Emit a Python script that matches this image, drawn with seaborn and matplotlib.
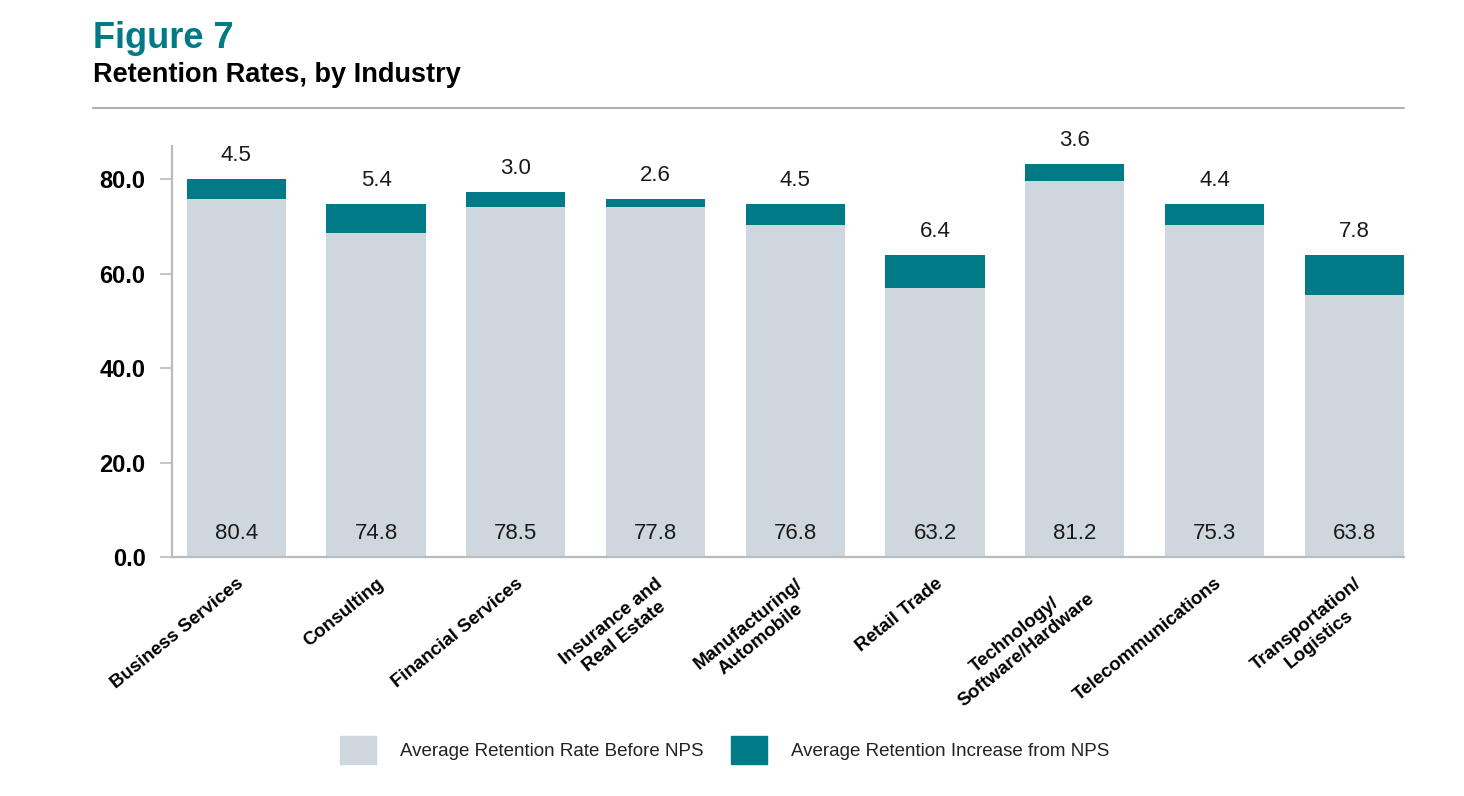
import pandas as pd
import matplotlib
matplotlib.use('Agg')
import matplotlib.pyplot as plt
import matplotlib.patches as mpatches
import seaborn as sns

# industries and values
industries = ['Business Services', 'Consulting', 'Financial Services',
              'Insurance and\nReal Estate', 'Manufacturing/\nAutomobile',
              'Retail Trade', 'Technology/\nSoftware/Hardware',
              'Telecommunications', 'Transportation/\nLogistics']
# bar heights as drawn in the original
before_nps = [75.8, 68.6, 74.1, 74.1, 70.3, 56.9, 79.5, 70.3, 55.4]
increase_nps = [4.3, 6.2, 3.1, 1.7, 4.5, 7.0, 3.7, 4.5, 8.5]
# printed labels
total_labels = [80.4, 74.8, 78.5, 77.8, 76.8, 63.2, 81.2, 75.3, 63.8]
increase_labels = [4.5, 5.4, 3.0, 2.6, 4.5, 6.4, 3.6, 4.4, 7.8]

teal = '#007a87'
grey = '#cdd7dd'
axis_grey = '#b8bcbf'

df = pd.DataFrame({'industry': industries, 'before': before_nps, 'increase': increase_nps})
df['total'] = df['before'] + df['increase']

sns.set_style('white')
plt.rcParams['font.family'] = ['Liberation Sans', 'DejaVu Sans']

fig = plt.figure(figsize=(14.64, 7.96), dpi=100)
ax = fig.add_axes([172 / 1464, 1 - 557 / 796, (1404 - 172) / 1464, (557 - 146) / 796])

# stacked bars: full total in teal, "before" drawn over it in grey
sns.barplot(data=df, x='industry', y='total', color=teal, width=0.71, saturation=1,
            linewidth=0, edgecolor='none', ax=ax)
sns.barplot(data=df, x='industry', y='before', color=grey, width=0.71, saturation=1,
            linewidth=0, edgecolor='none', ax=ax)

ax.set_xlim(-0.46, 8.355)
ax.set_ylim(0, 87.0)
ax.set_yticks([0, 20, 40, 60, 80])
ax.set_yticklabels([f'{v:.1f}' for v in [0, 20, 40, 60, 80]], fontsize=17, fontweight='bold',
                   color='black')
ax.set_xlabel('')
ax.set_ylabel('')

for s in ['top', 'right']:
    ax.spines[s].set_visible(False)
for s in ['left', 'bottom']:
    ax.spines[s].set_color(axis_grey)
    ax.spines[s].set_linewidth(1.6)
ax.tick_params(axis='y', length=9, width=1.2, color=axis_grey, pad=10, left=True)
ax.tick_params(axis='x', length=0, pad=13)

ax.set_xticks(range(len(industries)))
ax.set_xticklabels(industries, rotation=39, ha='right', va='top', rotation_mode='anchor',
                   fontsize=13.5, fontweight='bold', multialignment='center', color='black')

for i, row in df.iterrows():
    ax.annotate(f'{increase_labels[i]:.1f}', (i, row['total']), xytext=(0, 13),
                textcoords='offset points', ha='center', va='baseline', fontsize=16, color='#1a1a1a')
    ax.annotate(f'{total_labels[i]:.1f}', (i, 0), xytext=(0, 13),
                textcoords='offset points', ha='center', va='baseline', fontsize=16, color='#1a1a1a')

# header
fig.text(93 / 1464, 1 - 48 / 796, 'Figure 7', color=teal, fontsize=26, fontweight='bold',
         va='baseline', ha='left')
fig.text(93 / 1464, 1 - 82 / 796, 'Retention Rates, by Industry', color='black', fontsize=19.5,
         fontweight='bold', va='baseline', ha='left')
fig.add_artist(plt.Line2D([93 / 1464, 1404 / 1464], [1 - 108 / 796, 1 - 108 / 796],
                          color='#b0b0b0', linewidth=1.5))

handles = [mpatches.Patch(color=grey, label='Average Retention Rate Before NPS'),
           mpatches.Patch(color=teal, label='Average Retention Increase from NPS')]
fig.legend(handles=handles, loc='center', bbox_to_anchor=(0.495, 1 - 750 / 796), ncol=2,
           frameon=False, fontsize=13.5, handlelength=1.92, handleheight=1.92,
           handletextpad=1.28, columnspacing=1.44, labelcolor='#222222')

fig.savefig('out.png', dpi=100)
